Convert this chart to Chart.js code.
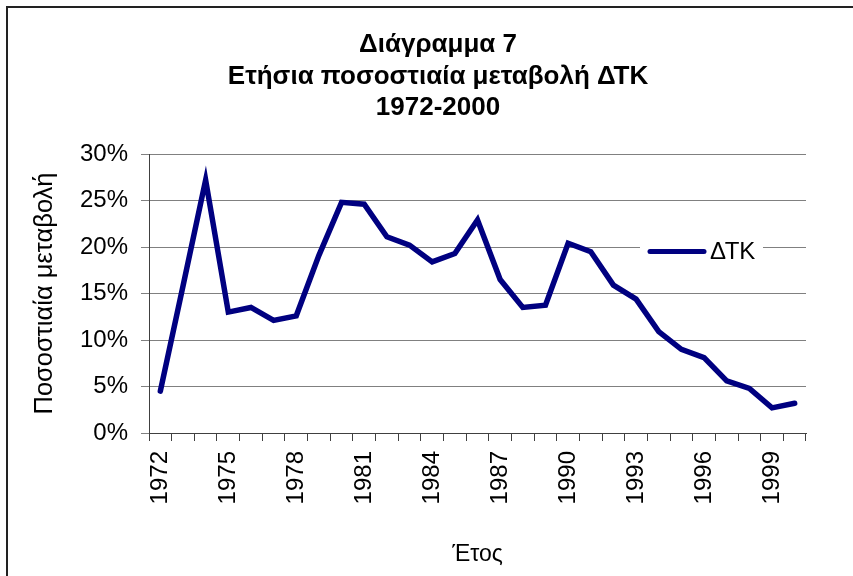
<!DOCTYPE html>
<html><head><meta charset="utf-8">
<script src="https://cdn.jsdelivr.net/npm/chart.js@4/dist/chart.umd.min.js"></script>
<style>html,body{margin:0;padding:0;background:#fff;overflow:hidden}canvas{display:block}</style>
</head><body>
<canvas id="c" width="853" height="576"></canvas>
<script>
const TITLE_LINES = ['Διάγραμμα 7', 'Ετήσια ποσοστιαία μεταβολή ΔΤΚ', '1972-2000'];
const YEARS = ['1972','1973','1974','1975','1976','1977','1978','1979','1980','1981',
               '1982','1983','1984','1985','1986','1987','1988','1989','1990','1991',
               '1992','1993','1994','1995','1996','1997','1998','1999','2000'];
const DTK = [4.5, 15.8, 27.2, 13.0, 13.5, 12.1, 12.6, 19.1, 24.8, 24.6,
             21.1, 20.2, 18.4, 19.3, 22.9, 16.5, 13.5, 13.75, 20.4, 19.5,
             15.9, 14.4, 10.9, 9.0, 8.1, 5.6, 4.8, 2.7, 3.2];
const SERIES_LABEL = 'ΔΤΚ';
const Y_AXIS_TITLE = 'Ποσοστιαία μεταβολή';
const X_AXIS_TITLE = 'Έτος';
const Y_MIN = 0, Y_MAX = 30, Y_STEP = 5;
const X_LABEL_EVERY = 3;

const FONT = "'Liberation Sans', Arial, sans-serif";
const LINE_COLOR = '#000080';

const framePlugin = {
  id: 'frame',
  beforeDraw(chart) {
    const ctx = chart.ctx;
    ctx.save();
    ctx.fillStyle = '#fff';
    ctx.fillRect(0, 0, chart.width, chart.height);
    ctx.strokeStyle = '#222';
    ctx.lineWidth = 2;
    ctx.strokeRect(7, 7, chart.width + 20, chart.height + 20);
    ctx.restore();
  },
  afterDraw(chart) {
    const ctx = chart.ctx;
    ctx.save();
    ctx.fillStyle = '#000';
    ctx.font = "bold 26px " + FONT;
    ctx.textAlign = 'center';
    ctx.textBaseline = 'middle';
    const cx = 438, y0 = 45, lh = 31.5;
    TITLE_LINES.forEach((t, i) => ctx.fillText(t, cx, y0 + i * lh));
    ctx.restore();
  }
};

const legendPlugin = {
  id: 'inlineLegend',
  afterDatasetsDraw(chart) {
    const ctx = chart.ctx;
    const ds = chart.data.datasets[0];
    ctx.save();
    ctx.fillStyle = '#fff';
    ctx.fillRect(640, 236, 123, 30);
    ctx.strokeStyle = ds.borderColor;
    ctx.lineWidth = 5;
    ctx.lineCap = 'round';
    ctx.beginPath();
    ctx.moveTo(650, 251.5);
    ctx.lineTo(704, 251.5);
    ctx.stroke();
    ctx.fillStyle = '#000';
    ctx.font = "24px " + FONT;
    ctx.textAlign = 'left';
    ctx.textBaseline = 'middle';
    ctx.fillText(ds.label, 710, 252);
    ctx.restore();
  }
};

new Chart(document.getElementById('c'), {
  type: 'line',
  data: {
    labels: YEARS,
    datasets: [{
      label: SERIES_LABEL,
      data: DTK,
      borderColor: LINE_COLOR,
      backgroundColor: LINE_COLOR,
      borderWidth: 5.5,
      pointRadius: 0,
      pointHoverRadius: 0,
      tension: 0,
      borderCapStyle: 'round',
      borderJoinStyle: 'miter',
      fill: false
    }]
  },
  options: {
    responsive: false,
    animation: false,
    devicePixelRatio: 1,
    events: [],
    layout: { padding: { left: 8, right: 47, top: 154, bottom: 0 } },
    plugins: {
      legend: { display: false },
      title: { display: false },
      tooltip: { enabled: false }
    },
    scales: {
      x: {
        type: 'category',
        offset: true,
        grid: {
          offset: true,
          drawOnChartArea: false,
          drawTicks: true,
          tickLength: 8,
          color: '#404040',
          lineWidth: 1
        },
        border: { display: true, color: '#404040', width: 1 },
        ticks: {
          autoSkip: false,
          minRotation: 90,
          maxRotation: 90,
          padding: 10,
          color: '#000',
          font: { family: FONT, size: 24 },
          callback: function(v, i) { return i % X_LABEL_EVERY === 0 ? this.getLabelForValue(v) : ''; }
        },
        title: {
          display: true,
          text: X_AXIS_TITLE,
          color: '#000',
          font: { family: FONT, size: 23 },
          padding: { top: 0, bottom: 8 }
        },
        afterFit(scale) { scale.height = 576 - 433; }
      },
      y: {
        min: Y_MIN,
        max: Y_MAX,
        ticks: {
          stepSize: Y_STEP,
          padding: 13,
          color: '#000',
          font: { family: FONT, size: 24 },
          callback: v => v + '%'
        },
        grid: {
          color: '#808080',
          lineWidth: 1,
          drawTicks: true,
          tickLength: 8
        },
        border: { display: true, color: '#404040', width: 1 },
        title: {
          display: true,
          text: Y_AXIS_TITLE,
          color: '#000',
          font: { family: FONT, size: 25.5 },
          padding: { top: 22, bottom: 0 }
        },
        afterFit(scale) { scale.width = 149 - 8; }
      }
    }
  },
  plugins: [framePlugin, legendPlugin]
});
</script>
</body></html>
